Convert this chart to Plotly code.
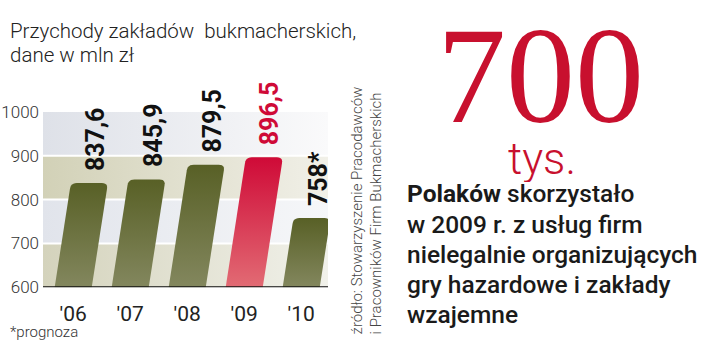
import plotly.graph_objects as go

# ---- data ----
years = ["'06", "'07", "'08", "'09", "'10"]
values = [837.6, 845.9, 879.5, 896.5, 758.0]
value_labels = ["837,6", "845,9", "879,5", "896,5", "758*"]
highlight = [False, False, False, True, False]
y_ticks = [600, 700, 800, 900, 1000]
band_edges = [600, 700, 800, 900, 1000]

W, H = 720, 353
PL, PR, PT, PB = 43, 328, 108, 294          # plot area in px
XR = [-0.53, 4.47]
YR = [600, 1000]

def fx(p):  # px -> paper x
    return p / W
def fy(p):  # px -> paper y
    return 1 - p / H

sx = (PR - PL) / (XR[1] - XR[0])   # px per x unit
sy = (PB - PT) / (YR[1] - YR[0])   # px per y unit

fig = go.Figure()

band_cols = [("#d4d3bc", "#f1f1ea"), ("#e1e4eb", "#f6f7f9"),
             ("#d2d1b7", "#f1f0e8"), ("#dee1e8", "#fafafb")]
for (lo, hi), (c0, c1) in zip(zip(band_edges[:-1], band_edges[1:]), band_cols):
    fig.add_trace(go.Scatter(
        x=[XR[0], XR[1], XR[1], XR[0], XR[0]], y=[lo, lo, hi, hi, lo],
        mode="none", fill="toself",
        fillgradient=dict(type="horizontal", colorscale=[[0, c0], [1, c1]]),
        hoverinfo="skip", showlegend=False))

for g in y_ticks[1:-1]:
    fig.add_trace(go.Scatter(x=[XR[0], XR[1]], y=[g, g], mode="lines",
                             line=dict(color="white", width=2),
                             hoverinfo="skip", showlegend=False))

HW = 0.325
SLANT = 0.068
R = 6

def bar_shape(i, v):
    h = (v - YR[0]) * sy
    s = (v - YR[0]) * SLANT
    bl = (-HW * sx, 0.0)
    br = (HW * sx, 0.0)
    tl = (-HW * sx + s, h)
    tr = (HW * sx + s, h)
    def along(a, b, d):
        dx, dy = b[0] - a[0], b[1] - a[1]
        L = (dx * dx + dy * dy) ** 0.5
        return (a[0] + dx / L * d, a[1] + dy / L * d)
    pts = [bl]
    p0 = along(tl, bl, R); p2 = along(tl, tr, R)
    for t in [k / 6 for k in range(7)]:
        pts.append(((1-t)**2*p0[0] + 2*(1-t)*t*tl[0] + t*t*p2[0],
                    (1-t)**2*p0[1] + 2*(1-t)*t*tl[1] + t*t*p2[1]))
    p0 = along(tr, tl, R); p2 = along(tr, br, R)
    for t in [k / 6 for k in range(7)]:
        pts.append(((1-t)**2*p0[0] + 2*(1-t)*t*tr[0] + t*t*p2[0],
                    (1-t)**2*p0[1] + 2*(1-t)*t*tr[1] + t*t*p2[1]))
    pts.append(br)
    pts.append(bl)
    xs = [i + p[0] / sx for p in pts]
    ys = [YR[0] + p[1] / sy for p in pts]
    return xs, ys, i + s / sx

tops = []
for i, (v, hl) in enumerate(zip(values, highlight)):
    xs, ys, tx = bar_shape(i, v)
    tops.append(tx)
    cs = [[0, "#e26b74"], [1, "#cf0a37"]] if hl else [[0, "#83875e"], [1, "#586026"]]
    fig.add_trace(go.Scatter(
        x=xs, y=ys, mode="none", fill="toself",
        fillgradient=dict(type="vertical", colorscale=cs),
        hoverinfo="skip", showlegend=False))

fig.add_trace(go.Scatter(x=[XR[0], XR[1]], y=[600, 600], mode="lines",
                         line=dict(color="#111111", width=2.2),
                         hoverinfo="skip", showlegend=False))

for i, (v, lab, hl) in enumerate(zip(values, value_labels, highlight)):
    fig.add_annotation(x=tops[i] + 6 / sx, y=v + 11 / sy, text=lab, textangle=-90,
                       showarrow=False, xanchor="center", yanchor="bottom",
                       font=dict(family="Roboto", size=25, weight=700,
                                 color="#cf0a37" if hl else "#111111"))

fig.update_layout(
    width=W, height=H, margin=dict(l=0, r=0, t=0, b=0),
    paper_bgcolor="white", plot_bgcolor="white", showlegend=False,
    xaxis=dict(domain=[fx(PL), fx(PR)], range=XR, showgrid=False, zeroline=False,
               tickmode="array", tickvals=list(range(len(years))), ticktext=years,
               ticks="", tickfont=dict(family="Roboto", size=21, color="#222222"),
               showline=False, ticklabelstandoff=12),
    yaxis=dict(domain=[fy(PB), fy(PT)], range=YR, showgrid=False, zeroline=False,
               tickmode="array", tickvals=y_ticks, ticks="",
               tickfont=dict(family="Roboto", size=17, weight=300, color="#333333"),
               ticklabelstandoff=3),
)

fig.add_annotation(xref="paper", yref="paper", x=fx(8), y=fy(22), text="Przychody zakładów  bukmacherskich,",
                   showarrow=False, xanchor="left", yanchor="middle",
                   font=dict(family="Roboto", size=20.5, weight=300, color="#222222"))
fig.add_annotation(xref="paper", yref="paper", x=fx(8), y=fy(48), text="dane w mln zł",
                   showarrow=False, xanchor="left", yanchor="middle",
                   font=dict(family="Roboto", size=20.5, weight=300, color="#222222"))
fig.add_annotation(xref="paper", yref="paper", x=fx(8), y=fy(353), text="*prognoza",
                   showarrow=False, xanchor="left", yanchor="bottom",
                   font=dict(family="Roboto", size=15, weight=300, color="#333333"))
fig.add_annotation(xref="paper", yref="paper", x=fx(367), y=fy(346),
                   text="źródło: Stowarzyszenie Pracodawców<br>i Pracowników Firm Bukmacherskich",
                   textangle=-90, align="left", showarrow=False,
                   xanchor="center", yanchor="bottom",
                   font=dict(family="Roboto", size=15, weight=300, color="#444444"))
fig.add_annotation(xref="paper", yref="paper", x=fx(540), y=fy(75), text="700",
                   showarrow=False, xanchor="center", yanchor="middle",
                   height=104, valign="middle", yshift=6,
                   font=dict(family="Liberation Serif", size=138, color="#c8102e"))
fig.add_annotation(xref="paper", yref="paper", x=fx(542), y=fy(158), text="tys.",
                   showarrow=False, xanchor="center", yanchor="middle",
                   height=46, valign="middle",
                   font=dict(family="Roboto", size=44, weight=300, color="#c8102e"))
desc = ["<b>Polaków</b> skorzystało", "w 2009 r. z usług firm",
        "nielegalnie organizujących", "gry hazardowe i zakłady", "wzajemne"]
for k, line in enumerate(desc):
    fig.add_annotation(xref="paper", yref="paper", x=fx(405), y=fy(195 + 32 * k), text=line,
                       showarrow=False, xanchor="left", yanchor="middle",
                       font=dict(family="Roboto", size=24.5, weight=500, color="#1a1a1a"))

fig.write_html("out.html", config={"displayModeBar": False})
